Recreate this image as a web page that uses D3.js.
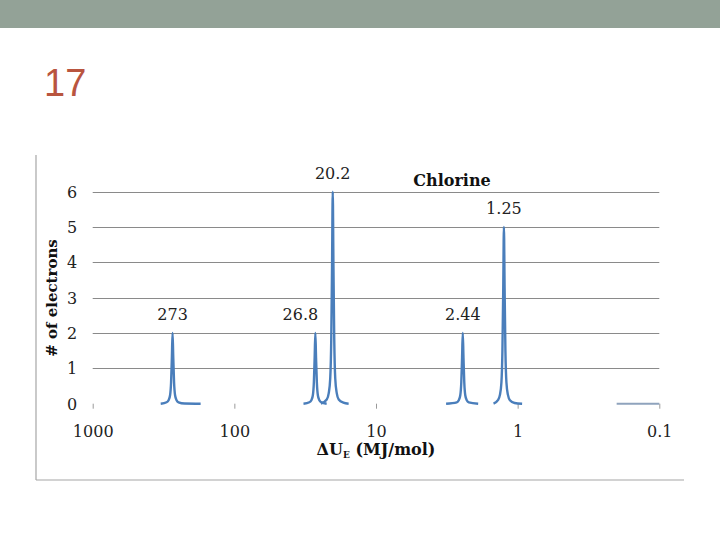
<!DOCTYPE html>
<html><head><meta charset="utf-8">
<script src="https://cdnjs.cloudflare.com/ajax/libs/d3/7.8.5/d3.min.js"></script>
<style>body{margin:0;background:#fff}svg{display:block}</style>
</head><body>
<script>
// ---- data ----
const slideNumber = "17";
const chartTitle = "Chlorine";
const yTicks = [0, 1, 2, 3, 4, 5, 6];
const xTicks = [1000, 100, 10, 1, 0.1];
const xTickLabels = ["1000", "100", "10", "1", "0.1"];
// peak labels: energy (MJ/mol) and electron count
const peakEnergies = [273, 26.8, 20.2, 2.44, 1.25];
const peakCounts = [2, 2, 6, 2, 5];
const peakLabels = ["273", "26.8", "20.2", "2.44", "1.25"];
// curve segments, [energy, count]
const seg273 = [[331,0],[301,0.04],[291.3,0.1],[284.3,0.24],[279.7,0.6],[276.1,1.3],[273,2],[269.9,1.3],[266.4,0.6],[262.1,0.24],[255.8,0.1],[247.7,0.04],[224.7,0.005],[173,0]];
const seg268 = [[32.5,0],[29.54,0.04],[28.6,0.1],[27.91,0.24],[27.46,0.6],[27.11,1.3],[26.8,2],[26.5,1.3],[26.15,0.6],[25.73,0.24],[25.11,0.1],[24.31,0.04],[22.3,0]];
const seg202 = [[24.5,0],[22.27,0.12],[21.56,0.3],[21.04,0.72],[20.7,1.8],[20.43,3.9],[20.2,6],[19.97,3.9],[19.71,1.8],[19.4,0.72],[18.93,0.3],[18.33,0.12],[17.0,0.03],[15.6,0]];
const seg244 = [[3.2,0],[2.69,0.04],[2.604,0.1],[2.541,0.24],[2.5,0.6],[2.468,1.3],[2.44,2],[2.412,1.3],[2.381,0.6],[2.343,0.24],[2.287,0.1],[2.214,0.04],[1.9,0]];
const seg125 = [[1.48,0],[1.378,0.1],[1.334,0.25],[1.302,0.6],[1.281,1.5],[1.264,3.25],[1.25,5],[1.236,3.25],[1.22,1.5],[1.2,0.6],[1.171,0.25],[1.134,0.1],[1.05,0.02],[0.93,0]];
const segTail = [[0.2,0],[0.1,0]];
const segments = [seg273, seg268, seg202, seg244, seg125];

const W = 720, H = 540;
const svg = d3.select("body").append("svg").attr("width", W).attr("height", H);

// header bar
svg.append("rect").attr("x",0).attr("y",0).attr("width",W).attr("height",28).attr("fill","#93a297");
svg.append("text").attr("x",44).attr("y",96).text(slideNumber)
  .attr("font-family","Liberation Sans, Arial, sans-serif").attr("font-size",38).attr("fill","#b9553f");

// frame (left & bottom)
svg.append("line").attr("x1",36).attr("x2",36).attr("y1",155).attr("y2",480).attr("stroke","#a6a6a6").attr("stroke-width",1.2);
svg.append("line").attr("x1",36).attr("x2",684).attr("y1",480).attr("y2",480).attr("stroke","#a6a6a6").attr("stroke-width",1.2);

const x = d3.scaleLog().domain([1000, 0.1]).range([92.7, 659.3]);
const y = d3.scaleLinear().domain([0, 6]).range([403.7, 191.7]);

const serif = "DejaVu Serif, Liberation Serif, serif";

// gridlines
svg.append("g").selectAll("line").data(yTicks.filter(d => d > 0)).join("line")
  .attr("x1", x(1000)).attr("x2", x(0.1))
  .attr("y1", d => Math.round(y(d)) + 0.5).attr("y2", d => Math.round(y(d)) + 0.5)
  .attr("stroke", "#8a8a8a").attr("stroke-width", 1);

// y axis labels
svg.append("g").selectAll("text").data(yTicks).join("text")
  .attr("x", 72).attr("y", d => y(d) + 6).attr("text-anchor","middle")
  .attr("font-family", serif).attr("font-size", 16).attr("fill","#222")
  .text(d => d);

// x axis ticks and labels
const xAxis = d3.axisBottom(x).tickValues(xTicks).tickSize(5).tickFormat((d,i) => xTickLabels[i]);
const gx = svg.append("g").attr("transform", `translate(0,${y(0)})`).call(xAxis);
gx.select(".domain").remove();
gx.selectAll(".tick line").attr("stroke","#9a9a9a");
gx.selectAll(".tick text").attr("font-family", serif).attr("font-size", 16).attr("fill","#222")
  .attr("y", 28).attr("dy","0.35em");

// series
const line = d3.line().x(d => x(d[0])).y(d => y(d[1])).curve(d3.curveMonotoneX);
svg.append("g").selectAll("path").data(segments).join("path")
  .attr("d", line).attr("fill","none").attr("stroke","#4a7ebb").attr("stroke-width",2.4)
  .attr("stroke-linejoin","round");
svg.append("path").attr("d", line(segTail)).attr("fill","none").attr("stroke","#8fa3bd").attr("stroke-width",2);

// peak labels
const labelDy = [-81, -81, -13, -81, -13];
const labelDx = [0, -15, 0, 0, 0];
svg.append("g").selectAll("text").data(peakLabels).join("text")
  .attr("x", (d,i) => x(peakEnergies[i]) + labelDx[i])
  .attr("y", (d,i) => y(peakCounts[i]) + labelDy[i] + (peakCounts[i] === 2 ? 68 : 0))
  .attr("text-anchor","middle").attr("font-family", serif).attr("font-size", 16).attr("fill","#222")
  .text(d => d);

// title
svg.append("text").attr("x", 452).attr("y", 186).attr("text-anchor","middle")
  .attr("font-family", serif).attr("font-size", 16).attr("font-weight","bold").attr("fill","#111").text(chartTitle);

// x axis title
const xt = svg.append("text").attr("x", 376).attr("y", 455).attr("text-anchor","middle")
  .attr("font-family", serif).attr("font-size", 16).attr("font-weight","bold").attr("fill","#111");
xt.append("tspan").text("ΔU");
xt.append("tspan").attr("font-size", 9).attr("dy", 3).text("E");
xt.append("tspan").attr("dy", -3).text(" (MJ/mol)");

// y axis title
svg.append("text").attr("transform","translate(57,298) rotate(-90)").attr("text-anchor","middle")
  .attr("font-family", serif).attr("font-size", 15).attr("font-weight","bold").attr("fill","#111").text("# of electrons");
</script>
</body></html>
